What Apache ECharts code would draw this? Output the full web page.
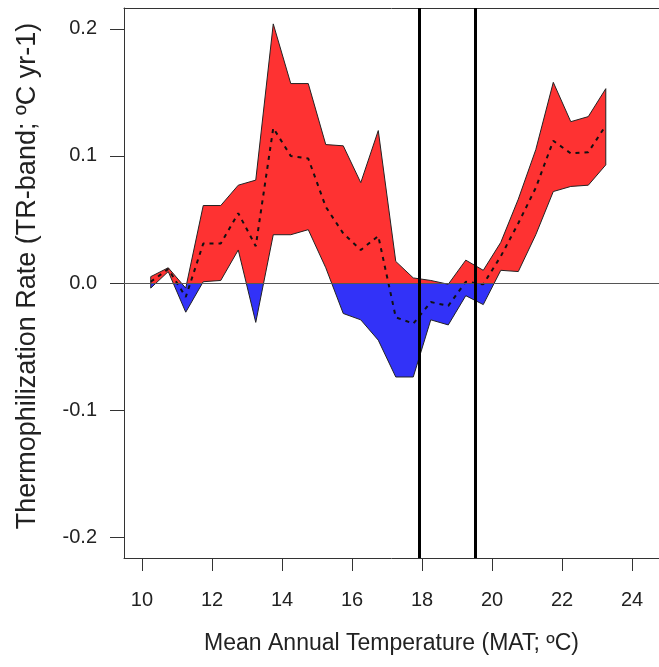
<!DOCTYPE html>
<html>
<head>
<meta charset="utf-8">
<script src="https://cdn.jsdelivr.net/npm/echarts@6/dist/echarts.min.js"></script>
<style>
  html, body { margin: 0; padding: 0; background: #fff; }
  #chart { width: 659px; height: 667px; }
</style>
</head>
<body>
<div id="chart"></div>
<script>
// 温度格点（MAT, ºC）
const temps = [10.25, 10.75, 11.25, 11.75, 12.25, 12.75, 13.25, 13.75, 14.25, 14.75, 15.25, 15.75, 16.25, 16.75,
  17.25, 17.75, 18.25, 18.75, 19.25, 19.75, 20.25, 20.75, 21.25, 21.75, 22.25, 22.75, 23.25]
// 上界 / 均值 / 下界
const upper = [0.005, 0.012, -0.004, 0.061, 0.061, 0.077, 0.081, 0.204, 0.157, 0.157, 0.109, 0.108, 0.079, 0.120,
  0.017, 0.004, 0.002, -0.001, 0.018, 0.010, 0.032, 0.066, 0.105, 0.158, 0.127, 0.131, 0.153]
const mean = [0.001, 0.011, -0.011, 0.031, 0.031, 0.055, 0.029, 0.122, 0.100, 0.098, 0.060, 0.039, 0.026, 0.037,
  -0.027, -0.032, -0.015, -0.018, 0.001, -0.001, 0.021, 0.047, 0.075, 0.112, 0.102, 0.103, 0.124]
const lower = [-0.004, 0.009, -0.023, 0.001, 0.002, 0.026, -0.031, 0.038, 0.038, 0.042, 0.012, -0.024, -0.029, -0.045,
  -0.074, -0.074, -0.029, -0.033, -0.010, -0.017, 0.010, 0.009, 0.038, 0.072, 0.076, 0.077, 0.093]
// 竖线位置
const thresholds = [17.93, 19.52]
// 刻度
const xTicks = [10, 12, 14, 16, 18, 20, 22, 24]
const yTicks = [-0.2, -0.1, 0, 0.1, 0.2]

const font = 'Liberation Sans, Arial, sans-serif'
const frame = { show: true, onZero: false, lineStyle: { color: '#333', width: 1 } }

// 带状多边形：上界正向 + 下界反向
function bandPolygon () {
  const pts = temps.map((t, i) => [t, upper[i]])
  for (let i = temps.length - 1; i >= 0; i--) pts.push([temps[i], lower[i]])
  return pts
}

// 按 y=0 裁剪（Sutherland-Hodgman）
function clipHalf (poly, above) {
  const inside = p => above ? p[1] >= 0 : p[1] <= 0
  const out = []
  for (let i = 0; i < poly.length; i++) {
    const a = poly[i]
    const b = poly[(i + 1) % poly.length]
    const ina = inside(a)
    const inb = inside(b)
    if (ina) out.push(a)
    if (ina !== inb) {
      const t = a[1] / (a[1] - b[1])
      out.push([a[0] + t * (b[0] - a[0]), 0])
    }
  }
  return out
}

const chart = echarts.init(document.getElementById('chart'))

const option = {
  animation: false,
  grid: {
    left: 124,
    right: 0,
    top: 8,
    bottom: 109,
    show: false
  },
  xAxis: [
    {
      type: 'value',
      min: 9.486,
      max: 24.77,
      name: 'Mean Annual Temperature (MAT; ºC)',
      nameLocation: 'middle',
      nameGap: 74,
      nameTextStyle: { fontSize: 23, color: '#222', fontFamily: font },
      axisLine: frame,
      splitLine: { show: false },
      axisTick: { show: true, customValues: xTicks, length: 13, lineStyle: { color: '#333' } },
      axisLabel: { customValues: xTicks, margin: 32, fontSize: 20, color: '#222', fontFamily: font }
    },
    {
      // 顶部边框
      type: 'value',
      position: 'top',
      min: 9.486,
      max: 24.77,
      axisLine: frame,
      axisTick: { show: false },
      axisLabel: { show: false },
      splitLine: { show: false }
    }
  ],
  yAxis: {
    type: 'value',
    min: -0.2165,
    max: 0.2165,
    name: 'Thermophilization Rate (TR-band; ºC yr-1)',
    nameLocation: 'middle',
    nameGap: 83,
    nameTextStyle: { fontSize: 27, color: '#222', fontFamily: font, padding: [0, 0, 0, 14] },
    axisLine: frame,
    splitLine: { show: false },
    axisTick: { show: true, customValues: yTicks, length: 14, lineStyle: { color: '#333' } },
    axisLabel: {
      customValues: yTicks,
      margin: 27,
      fontSize: 20,
      color: '#222',
      fontFamily: font,
      formatter: v => v.toFixed(1)
    }
  },
  series: [
    {
      // 红/蓝 填充带
      type: 'custom',
      z: 2,
      silent: true,
      data: [[temps[0], 0]],
      renderItem: (params, api) => {
        const poly = bandPolygon()
        const toPx = pts => pts.map(p => api.coord(p))
        return {
          type: 'group',
          children: [
            { type: 'polygon', shape: { points: toPx(clipHalf(poly, true)) }, style: { fill: '#fe3232' } },
            { type: 'polygon', shape: { points: toPx(clipHalf(poly, false)) }, style: { fill: '#3232f8' } },
            { type: 'polygon', shape: { points: toPx(poly) }, style: { fill: null, stroke: '#222', lineWidth: 1 } }
          ]
        }
      }
    },
    {
      // 均值虚线
      type: 'line',
      z: 3,
      silent: true,
      symbol: 'none',
      data: temps.map((t, i) => [t, mean[i]]),
      lineStyle: { color: '#111', width: 2, type: [4, 5] },
      markLine: {
        silent: true,
        symbol: 'none',
        label: { show: false },
        animation: false,
        data: [
          { yAxis: 0, lineStyle: { color: '#555', width: 1, type: 'solid' } },
          ...thresholds.map(t => ({ xAxis: t, lineStyle: { color: '#000', width: 3, type: 'solid' } }))
        ]
      }
    }
  ]
}

chart.setOption(option)
</script>
</body>
</html>
